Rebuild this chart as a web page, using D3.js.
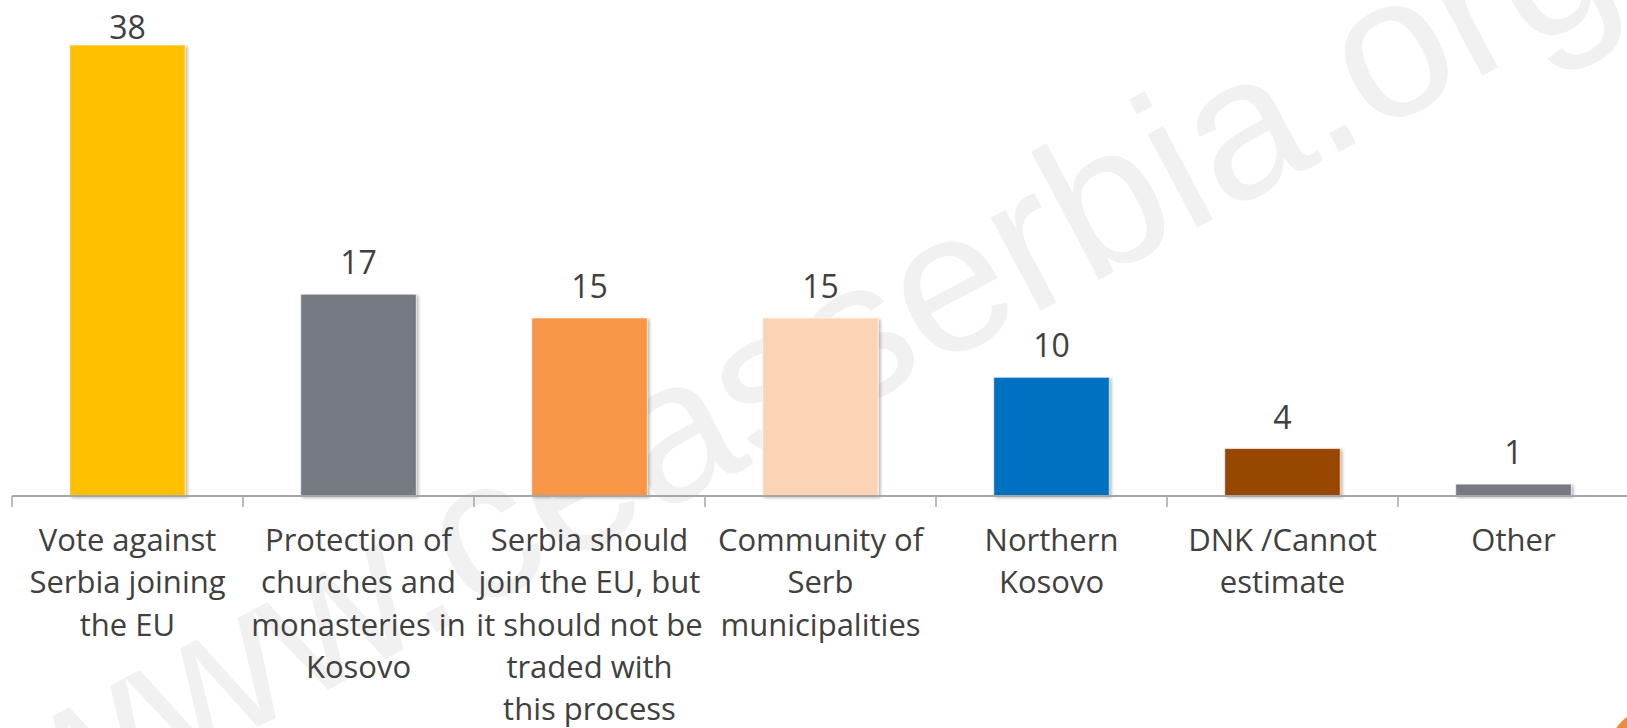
<!DOCTYPE html>
<html>
<head>
<meta charset="utf-8">
<script src="https://cdn.jsdelivr.net/npm/d3@7"></script>
<style>
  html, body { margin: 0; padding: 0; background: #ffffff; }
  svg { display: block; }
</style>
</head>
<body>
<svg id="chart" width="1627" height="728"></svg>
<script>
// ---- data ----
const categories = [
  "Vote against Serbia joining the EU",
  "Protection of churches and monasteries in Kosovo",
  "Serbia should join the EU, but it should not be traded with this process",
  "Community of Serb municipalities",
  "Northern Kosovo",
  "DNK /Cannot estimate",
  "Other"
];
const tickLabelLines = [
  ["Vote against", "Serbia joining", "the EU"],
  ["Protection of", "churches and", "monasteries in", "Kosovo"],
  ["Serbia should", "join the EU, but", "it should not be", "traded with", "this process"],
  ["Community of", "Serb", "municipalities"],
  ["Northern", "Kosovo"],
  ["DNK /Cannot", "estimate"],
  ["Other"]
];
const values = [38, 17, 15, 15, 10, 4, 1];
const barColors = ["#FFC000", "#767A83", "#F79646", "#FAD4B5", "#0070C0", "#974706", "#767A83"];
const watermarkText = "www.ceasserbia.org";

// ---- layout ----
const W = 1627, H = 728;
const svg = d3.select("#chart");
const textColor = "#404040";
const font = "'Open Sans', 'Noto Sans', sans-serif";

const defs = svg.append("defs");
const f = defs.append("filter").attr("id", "shadow")
  .attr("x", "-10%").attr("y", "-10%").attr("width", "130%").attr("height", "130%");
f.append("feDropShadow").attr("dx", 2).attr("dy", 1.5).attr("stdDeviation", 1.8)
  .attr("flood-color", "#000").attr("flood-opacity", 0.28);

// watermark (behind everything)
svg.append("text")
  .attr("transform", "translate(47,839) rotate(-28)")
  .attr("font-family", "'Liberation Sans', Arial, sans-serif")
  .attr("font-size", 200)
  .attr("fill", "#f1f1f1")
  .text(watermarkText);

const x = d3.scaleBand()
  .domain(categories)
  .range([12, 1629])
  .paddingInner(0.5)
  .paddingOuter(0.25);

const y = d3.scaleLinear()
  .domain([0, 38])
  .range([496, 45]);

// bars
svg.append("g").selectAll("rect")
  .data(values)
  .join("rect")
  .attr("x", (d, i) => x(categories[i]))
  .attr("y", d => y(d))
  .attr("width", x.bandwidth())
  .attr("height", d => y(0) - y(d))
  .attr("fill", (d, i) => barColors[i])
  .attr("stroke", "#ffffff")
  .attr("stroke-opacity", 0.6)
  .attr("stroke-width", 1)
  .attr("filter", "url(#shadow)");

// axis line + boundary ticks
const axisG = svg.append("g").attr("transform", `translate(0,${y(0)})`);
const axis = d3.axisBottom(x).tickSize(0).tickFormat("");
axisG.call(axis);
axisG.select(".domain").attr("stroke", "#A6A6A6").attr("stroke-width", 2)
  .attr("d", `M${x.range()[0]},0H${x.range()[1]}`);

const step = x.step();
const boundaries = categories.map(c => x(c) - step * x.paddingInner() / 2);
boundaries.push(x(categories[categories.length - 1]) + x.bandwidth() + step * x.paddingInner() / 2);
axisG.selectAll("line.bt")
  .data(boundaries)
  .join("line")
  .attr("class", "bt")
  .attr("x1", d => d).attr("x2", d => d)
  .attr("y1", 0).attr("y2", 11)
  .attr("stroke", "#A6A6A6").attr("stroke-width", 1.5);

// category labels
const lbl = svg.append("g")
  .attr("font-family", font)
  .attr("font-size", 31)
  .attr("fill", textColor)
  .attr("text-anchor", "middle");
categories.forEach((c, i) => {
  const t = lbl.append("text")
    .attr("x", x(c) + x.bandwidth() / 2)
    .attr("y", 551);
  tickLabelLines[i].forEach((line, j) => {
    t.append("tspan")
      .attr("x", x(c) + x.bandwidth() / 2)
      .attr("dy", j === 0 ? 0 : 42.3)
      .text(line);
  });
});

// value labels
svg.append("g")
  .attr("font-family", font)
  .attr("font-size", 32)
  .attr("fill", textColor)
  .attr("text-anchor", "middle")
  .selectAll("text")
  .data(values)
  .join("text")
  .attr("x", (d, i) => x(categories[i]) + x.bandwidth() / 2)
  .attr("y", d => Math.max(y(d) - 20, 39))
  .text(d => d);

// orange logo corner at bottom-right
svg.append("circle")
  .attr("cx", 1652).attr("cy", 752).attr("r", 43)
  .attr("fill", "#F58A34");
</script>
</body>
</html>
